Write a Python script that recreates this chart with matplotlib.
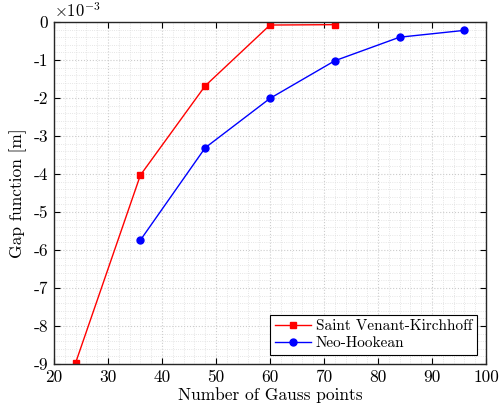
import matplotlib
matplotlib.use("Agg")
import matplotlib.pyplot as plt
from matplotlib.ticker import AutoMinorLocator

plt.rcParams['font.family'] = 'serif'
plt.rcParams['font.serif'] = ['cmr10', 'DejaVu Serif']
plt.rcParams['mathtext.fontset'] = 'cm'
plt.rcParams['axes.formatter.use_mathtext'] = True

svk_x = [24, 36, 48, 60, 72]
svk_y = [-8.97, -4.03, -1.68, -0.08, -0.07]
nh_x = [36, 48, 60, 72, 84, 96]
nh_y = [-5.74, -3.31, -2.01, -1.02, -0.40, -0.22]

xticks = [20, 30, 40, 50, 60, 70, 80, 90, 100]
yticks = [0, -1, -2, -3, -4, -5, -6, -7, -8, -9]
ytick_labels = ['0', '-1', '-2', '-3', '-4', '-5', '-6', '-7', '-8', '-9']

fig = plt.figure(figsize=(5, 4.15), dpi=100)
ax = fig.add_axes([54/500, 1-364/415, (486-54)/500, (364-22)/415])

ax.plot(svk_x, svk_y, color='red', marker='s', markersize=5, lw=1, label='Saint Venant-Kirchhoff')
ax.plot(nh_x, nh_y, color='blue', marker='o', markersize=5, lw=1, label='Neo-Hookean')

ax.set_xlim(20, 100)
ax.set_ylim(-9, 0)
ax.set_xticks(xticks)
ax.set_xticklabels([str(v) for v in xticks])
ax.set_yticks(yticks)
ax.set_yticklabels(ytick_labels)
ax.xaxis.set_minor_locator(AutoMinorLocator(5))
ax.yaxis.set_minor_locator(AutoMinorLocator(5))
ax.grid(True, which='major', color='#cccccc', linestyle=':', lw=0.8)
ax.grid(True, which='minor', color='#dddddd', linestyle=':', lw=0.6)
ax.tick_params(which='major', direction='in', top=True, right=True, labelsize=12.5, length=4, width=0.8, pad=4)
ax.tick_params(which='minor', length=0)
for s in ax.spines.values():
    s.set_linewidth(1.0)
    s.set_color('#262626')

ax.set_xlabel('Number of Gauss points', fontsize=12.5, labelpad=2)
ax.set_ylabel('Gap function [m]', fontsize=12.5, labelpad=5)
ax.text(0.0, 1.005, r'$\times10^{-3}$', transform=ax.transAxes, fontsize=12, ha='left', va='bottom')

leg = ax.legend(loc='lower right', fontsize=11, fancybox=False, framealpha=1,
                edgecolor='black', borderaxespad=0.6, handlelength=2.4,
                borderpad=0.3, labelspacing=0.2, handletextpad=0.3)
leg.get_frame().set_linewidth(0.8)

fig.savefig('out.png', dpi=100)
